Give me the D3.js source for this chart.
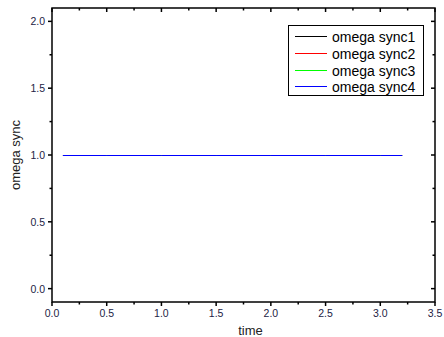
<!DOCTYPE html>
<html>
<head>
<meta charset="utf-8">
<script src="https://cdn.jsdelivr.net/npm/d3@7"></script>
<style>
  body { margin: 0; background: #fff; }
  svg { display: block; font-family: 'Liberation Sans', Arial, sans-serif; }
</style>
</head>
<body>
<svg id="chart" width="444" height="337"></svg>
<script>
var time = [0.1, 0.5, 1.0, 1.5, 2.0, 2.5, 3.0, 3.2];
var sync1 = [1, 1, 1, 1, 1, 1, 1, 1];
var sync2 = [1, 1, 1, 1, 1, 1, 1, 1];
var sync3 = [1, 1, 1, 1, 1, 1, 1, 1];
var sync4 = [1, 1, 1, 1, 1, 1, 1, 1];
var seriesNames = ['omega sync1', 'omega sync2', 'omega sync3', 'omega sync4'];
var seriesColors = ['#000000', '#ff0000', '#00ff00', '#0000ff'];
var xTicks = [0, 0.5, 1.0, 1.5, 2.0, 2.5, 3.0, 3.5];
var yTicks = [0, 0.5, 1.0, 1.5, 2.0];

var svg = d3.select('#chart');
var pLeft = 52, pRight = 435, pTop = 8, pBottom = 302;

var x = d3.scaleLinear().domain([0, 3.5]).range([pLeft, pRight]);
var y = d3.scaleLinear().domain([-0.1, 2.1]).range([pBottom, pTop]);

var xMinor = d3.range(0.25, 3.5, 0.5);
var yMinor = d3.range(0.25, 2.1, 0.5);

// ticks, outward on left/bottom, inward on top/right
var ticks = svg.append('g').attr('stroke', '#000').attr('stroke-width', 1.5);
xTicks.forEach(function (t) {
  ticks.append('line').attr('x1', x(t)).attr('x2', x(t)).attr('y1', pBottom).attr('y2', pBottom + 4);
  ticks.append('line').attr('x1', x(t)).attr('x2', x(t)).attr('y1', pTop).attr('y2', pTop + 4);
});
xMinor.forEach(function (t) {
  ticks.append('line').attr('x1', x(t)).attr('x2', x(t)).attr('y1', pBottom).attr('y2', pBottom + 2.5);
  ticks.append('line').attr('x1', x(t)).attr('x2', x(t)).attr('y1', pTop).attr('y2', pTop + 2.5);
});
yTicks.forEach(function (t) {
  ticks.append('line').attr('x1', pLeft).attr('x2', pLeft - 4).attr('y1', y(t)).attr('y2', y(t));
  ticks.append('line').attr('x1', pRight).attr('x2', pRight - 4).attr('y1', y(t)).attr('y2', y(t));
});
yMinor.forEach(function (t) {
  ticks.append('line').attr('x1', pLeft).attr('x2', pLeft - 2.5).attr('y1', y(t)).attr('y2', y(t));
  ticks.append('line').attr('x1', pRight).attr('x2', pRight - 2.5).attr('y1', y(t)).attr('y2', y(t));
});

svg.append('rect')
  .attr('x', pLeft).attr('y', pTop)
  .attr('width', pRight - pLeft).attr('height', pBottom - pTop)
  .attr('fill', 'none').attr('stroke', '#000').attr('stroke-width', 1.5);

// tick labels
svg.append('g').selectAll('text').data(xTicks).enter().append('text')
  .attr('x', function (d) { return x(d); })
  .attr('y', pBottom + 15)
  .attr('text-anchor', 'middle')
  .attr('font-size', 10.5)
  .attr('fill', '#222244')
  .text(function (d) { return d.toFixed(1); });

svg.append('g').selectAll('text').data(yTicks).enter().append('text')
  .attr('x', pLeft - 7)
  .attr('y', function (d) { return y(d) + 4; })
  .attr('text-anchor', 'end')
  .attr('font-size', 10.5)
  .attr('fill', '#222244')
  .text(function (d) { return d.toFixed(1); });

svg.append('text')
  .attr('x', (pLeft + pRight) / 2 + 7).attr('y', 335)
  .attr('text-anchor', 'middle').attr('font-size', 13).attr('fill', '#222')
  .text('time');

svg.append('text')
  .attr('transform', 'translate(19.5,' + ((pTop + pBottom) / 2) + ') rotate(-90)')
  .attr('text-anchor', 'middle').attr('font-size', 13).attr('fill', '#222')
  .text('omega sync');

// series
var line = d3.line()
  .x(function (d, i) { return x(time[i]); })
  .y(function (d) { return y(d) + 0.5; });

[sync1, sync2, sync3, sync4].forEach(function (s, i) {
  svg.append('path')
    .attr('d', line(s))
    .attr('fill', 'none')
    .attr('stroke', seriesColors[i])
    .attr('stroke-width', 1);
});

// legend
var leg = svg.append('g');
leg.append('rect')
  .attr('x', 288.5).attr('y', 25.5).attr('width', 135).attr('height', 70)
  .attr('fill', '#fff').attr('stroke', '#000').attr('stroke-width', 1);
seriesNames.forEach(function (n, i) {
  var yy = Math.round(36 + i * 16.8) + 0.5;
  leg.append('line')
    .attr('x1', 295).attr('x2', 327).attr('y1', yy).attr('y2', yy)
    .attr('stroke', seriesColors[i]).attr('stroke-width', 1);
  leg.append('text')
    .attr('x', 332).attr('y', yy + 5)
    .attr('font-size', 14).attr('fill', '#000')
    .text(n);
});
</script>
</body>
</html>
